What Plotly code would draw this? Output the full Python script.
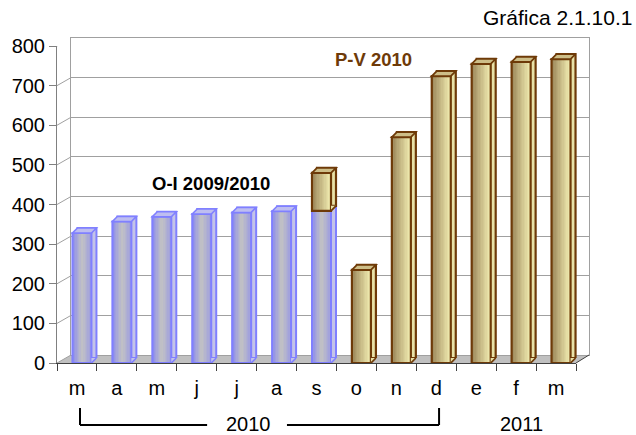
import plotly.graph_objects as go

# ---------------- data ----------------
months = ["m", "a", "m", "j", "j", "a", "s", "o", "n", "d", "e", "f", "m"]
oi_values = [328, 357, 369, 376, 380, 383, 384, None, None, None, None, None, None]
pv_values = [None, None, None, None, None, None, 96, 235, 570, 724, 755, 760, 767]
y_ticks = [0, 100, 200, 300, 400, 500, 600, 700, 800]
series_labels = ["O-I 2009/2010", "P-V 2010"]
year_labels = ["2010", "2011"]
title_text = "Gráfica 2.1.10.1"

# ---------------- geometry / style ----------------
W, H = 636, 435
ML, MR, MT, MB = 57, 47, 38, 72
PW = W - ML - MR          # paper width in px
PH = H - MT - MB          # paper height in px
FRONT_W, FRONT_H = 519, 317
DEPTH_X, DEPTH_Y = 14, 8  # back wall offset
BAR_DX, BAR_DY = 5, 5     # bar depth
N = len(months)
UNIT = FRONT_W / N
BAR_PX = 19
BW = BAR_PX / UNIT
LEFT = -BW / 2 + 5 / UNIT
NSTRIP = 14
FONT = "Liberation Sans, Arial, sans-serif"

BLUE_EDGE = (138, 138, 238)
BLUE_CENTER = (194, 194, 196)
BLUE_LINE = "#8080ff"
BLUE_SIDE = "rgb(196,196,232)"
BLUE_TOP = "rgb(190,190,240)"

BROWN_L = (150, 128, 84)
BROWN_R = (244, 240, 180)
BROWN_LINE = "#6e3a08"
BROWN_SIDE = "rgb(232,226,168)"
BROWN_TOP = "rgb(205,190,136)"


def rgb(c):
    return "rgb(%d,%d,%d)" % tuple(int(round(v)) for v in c)


def mix(a, b, t):
    return tuple(a[k] + (b[k] - a[k]) * t for k in range(3))


def blue_col(t):
    w = abs(2 * t - 1)
    if t > 0.5:
        w *= 0.75
    return rgb(mix(BLUE_CENTER, BLUE_EDGE, w ** 1.1))


def brown_col(t):
    return rgb(mix(BROWN_L, BROWN_R, t ** 0.9))


# build segments from the data arrays
segments = []  # (index, base, height, series, capped)
for i in range(N):
    base = 0
    if oi_values[i] is not None:
        segments.append((i, 0, oi_values[i], "oi", pv_values[i] is not None))
        base = oi_values[i]
    if pv_values[i] is not None:
        segments.append((i, base, pv_values[i], "pv", False))

styles = {
    "oi": dict(col=blue_col, line=BLUE_LINE, side=BLUE_SIDE, top=BLUE_TOP, lw=2),
    "pv": dict(col=brown_col, line=BROWN_LINE, side=BROWN_SIDE, top=BROWN_TOP, lw=2.2),
}

fig = go.Figure()

# dummy trace on back wall axes so that the subplot exists
fig.add_trace(go.Scatter(x=[None], y=[None], xaxis="x", yaxis="y",
                         showlegend=False, hoverinfo="skip"))

for s in ["oi", "pv"]:
    segs = [g for g in segments if g[3] == s]
    xs = [g[0] for g in segs]
    bases = [g[1] for g in segs]
    hs = [g[2] for g in segs]
    st = styles[s]
    # back face (gives side + top depth) on shifted axes
    fig.add_trace(go.Bar(x=xs, y=hs, base=bases, width=BW, offset=LEFT,
                         xaxis="x2", yaxis="y2",
                         marker=dict(color=st["side"], line=dict(color=st["line"], width=st["lw"])),
                         showlegend=False, hoverinfo="skip"))

for s in ["oi", "pv"]:
    segs = [g for g in segments if g[3] == s]
    xs = [g[0] for g in segs]
    bases = [g[1] for g in segs]
    hs = [g[2] for g in segs]
    st = styles[s]
    sw = BW / NSTRIP
    for k in range(NSTRIP):
        t = (k + 0.5) / NSTRIP
        fig.add_trace(go.Bar(x=xs, y=hs, base=bases, width=sw * 1.3 if k < NSTRIP - 1 else sw,
                             offset=LEFT + k * sw,
                             xaxis="x3", yaxis="y3",
                             marker=dict(color=st["col"](t), line=dict(width=0)),
                             showlegend=False, hoverinfo="skip"))
    fig.add_trace(go.Bar(x=xs, y=hs, base=bases, width=BW, offset=LEFT,
                         xaxis="x3", yaxis="y3",
                         marker=dict(color="rgba(0,0,0,0)",
                                     line=dict(color=st["line"], width=st["lw"])),
                         showlegend=False, hoverinfo="skip"))

shapes = []
# floor
shapes.append(dict(type="path", xref="paper", yref="paper", layer="below",
                   path="M0,0 L%f,0 L1,%f L%f,%f Z" % (FRONT_W / PW, DEPTH_Y / PH, DEPTH_X / PW, DEPTH_Y / PH),
                   fillcolor="#c0c0c0", line=dict(width=0)))
shapes.append(dict(type="line", xref="paper", yref="paper", layer="above",
                   x0=FRONT_W / PW, y0=0, x1=1, y1=DEPTH_Y / PH,
                   line=dict(color="#404040", width=1)))
# side wall diagonals
for v in y_ticks:
    shapes.append(dict(type="line", xref="paper", yref="y3", ysizemode="pixel", yanchor=v,
                       x0=0, x1=DEPTH_X / PW, y0=0, y1=DEPTH_Y, layer="below",
                       line=dict(color="#a0a0a0", width=1)))

# bar top faces and bottom side triangles
for (i, base, h, s, capped) in segments:
    st = styles[s]
    top = base + h
    if not capped:
        shapes.append(dict(type="path", xref="x3", yref="y3", xsizemode="pixel", ysizemode="pixel",
                           xanchor=i + LEFT, yanchor=top, layer="above",
                           path="M0,0 L%d,0 L%d,%d L%d,%d Z" % (BAR_PX, BAR_PX + BAR_DX, BAR_DY, BAR_DX, BAR_DY),
                           fillcolor=st["top"], line=dict(color=st["line"], width=st["lw"] * 0.8)))
    shapes.append(dict(type="path", xref="x3", yref="y3", xsizemode="pixel", ysizemode="pixel",
                       xanchor=i + LEFT + BW, yanchor=base, layer="above",
                       path="M0,0 L%d,%d L0,%d Z" % (BAR_DX, BAR_DY, BAR_DY),
                       fillcolor=st["side"], line=dict(width=0)))
    shapes.append(dict(type="line", xref="x3", yref="y3", xsizemode="pixel", ysizemode="pixel",
                       xanchor=i + LEFT + BW, yanchor=base, layer="above",
                       x0=0, y0=0, x1=BAR_DX, y1=BAR_DY,
                       line=dict(color=st["line"], width=st["lw"] * 0.8)))

# year brackets
y_top = -45 / PH
y_bot = -62 / PH
bx0, bx1, bx2, bx3 = 0.076, 3.26, 5.26, 9.07
for (xa, xb, ya, yb) in [(bx0, bx0, y_top, y_bot), (bx0, bx1, y_bot, y_bot),
                         (bx2, bx3, y_bot, y_bot), (bx3, bx3, y_bot, y_top)]:
    shapes.append(dict(type="line", xref="x3", yref="paper", x0=xa, x1=xb, y0=ya, y1=yb,
                       line=dict(color="black", width=2)))

annotations = [
    dict(text="<b>%s</b>" % series_labels[0], xref="x3", yref="y3", x=3.36, y=452,
         xanchor="center", yanchor="middle",
         showarrow=False, font=dict(size=18.5, color="black", family=FONT)),
    dict(text="<b>%s</b>" % series_labels[1], xref="x3", yref="y3", x=7.42, y=765,
         xanchor="center", yanchor="middle",
         showarrow=False, font=dict(size=18.5, color=BROWN_LINE, family=FONT)),
    dict(text=year_labels[0], xref="paper", yref="paper", x=(248 - ML) / PW, y=-61 / PH,
         xanchor="center", yanchor="middle",
         showarrow=False, font=dict(size=20, color="black", family=FONT)),
    dict(text=year_labels[1], xref="paper", yref="paper", x=(521 - ML) / PW, y=-61 / PH,
         xanchor="center", yanchor="middle",
         showarrow=False, font=dict(size=20, color="black", family=FONT)),
    dict(text=title_text, xref="paper", yref="paper", x=(634 - ML) / PW, y=(H - MB - 17) / PH,
         xanchor="right", yanchor="middle", showarrow=False,
         font=dict(size=21, color="black", family=FONT)),
]

rng_x = [-0.5, N - 0.5]
rng_y = [0, 800]
fig.update_layout(
    width=W, height=H,
    margin=dict(l=ML, r=MR, t=MT, b=MB, pad=0),
    paper_bgcolor="white", plot_bgcolor="rgba(0,0,0,0)",
    barmode="overlay", bargap=0,
    showlegend=False,
    font=dict(family=FONT, size=20, color="black"),
    shapes=shapes, annotations=annotations,
    xaxis=dict(domain=[DEPTH_X / PW, 1], range=rng_x, showgrid=False, zeroline=False,
               showticklabels=False, ticks="", showline=True, mirror=True,
               linecolor="#a0a0a0", linewidth=1, anchor="y", fixedrange=True),
    yaxis=dict(domain=[DEPTH_Y / PH, 1], range=rng_y, tickvals=y_ticks, showgrid=True,
               gridcolor="#a0a0a0", gridwidth=1, zeroline=False, showticklabels=False,
               ticks="", showline=True, mirror=True, linecolor="#a0a0a0", linewidth=1,
               anchor="x", fixedrange=True),
    xaxis2=dict(domain=[BAR_DX / PW, (FRONT_W + BAR_DX) / PW], range=rng_x, visible=False,
                anchor="y2", fixedrange=True),
    yaxis2=dict(domain=[BAR_DY / PH, (FRONT_H + BAR_DY) / PH], range=rng_y, visible=False,
                anchor="x2", fixedrange=True),
    xaxis3=dict(domain=[0, FRONT_W / PW], range=rng_x, tickvals=list(range(N)), ticktext=months,
                ticks="outside", ticklen=7, tickcolor="rgba(0,0,0,0)",
                minor=dict(tickvals=[k - 0.5 for k in range(N + 1)], ticks="outside",
                           ticklen=7, tickcolor="#404040", tickwidth=1),
                showline=True, linecolor="#404040", linewidth=1, showgrid=False, zeroline=False,
                tickfont=dict(size=20, family=FONT), anchor="y3", fixedrange=True),
    yaxis3=dict(domain=[0, FRONT_H / PH], range=rng_y, tickvals=y_ticks, ticks="outside",
                ticklen=7, tickcolor="#808080", showline=True, linecolor="#808080", linewidth=1,
                showgrid=False, zeroline=False, tickfont=dict(size=20, family=FONT),
                anchor="x3", fixedrange=True),
)

fig.write_html("out.html", config={"displayModeBar": False, "staticPlot": True},
               post_script="document.body.style.margin='0px';document.body.style.overflow='hidden';")
